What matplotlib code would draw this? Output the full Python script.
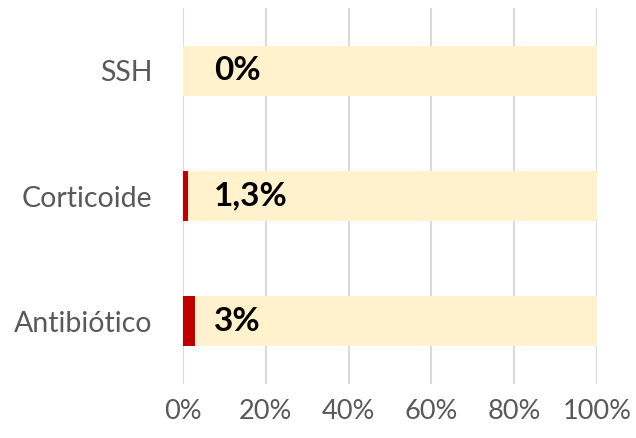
import matplotlib
matplotlib.use("Agg")
import matplotlib.pyplot as plt
from matplotlib.ticker import FuncFormatter

categories = ["SSH", "Corticoide", "Antibiótico"]
values = [0.0, 1.3, 3.0]
labels = ["0%", "1,3%", "3%"]
xticks = [0, 20, 40, 60, 80, 100]

plt.rcParams['font.family'] = ['Lato', 'DejaVu Sans']

fig = plt.figure(figsize=(6.36, 4.38), dpi=100)
ax = fig.add_axes([0.2877, 0.1233, 0.651, 0.8584])

ypos = list(range(len(categories)))
rest = [100 - v for v in values]
ax.barh(ypos, values, height=0.4, color="#C00000", zorder=3)
ax.barh(ypos, rest, left=values, height=0.4, color="#FFF2CC", zorder=3)

for y, lab in zip(ypos, labels):
    ax.text(7.5, y, lab, ha="left", va="center", fontsize=24, fontweight="bold",
            color="black", zorder=4)

ax.set_xlim(0, 100)
ax.set_ylim(len(categories) - 0.5, -0.5)
ax.set_yticks(ypos)
ax.set_yticklabels(categories)
ax.set_xticks(xticks)
ax.xaxis.set_major_formatter(FuncFormatter(lambda v, p: f"{int(v)}%"))
ax.tick_params(axis="x", length=0, pad=11, labelsize=19.5, labelcolor="#595959")
ax.tick_params(axis="y", length=0, pad=22, labelsize=20.5, labelcolor="#595959")
ax.grid(axis="x", color="#D9D9D9", linewidth=1.5, zorder=0)
ax.grid(axis="y", visible=False)
for s in ax.spines.values():
    s.set_visible(False)

fig.savefig("out.png", dpi=100)
